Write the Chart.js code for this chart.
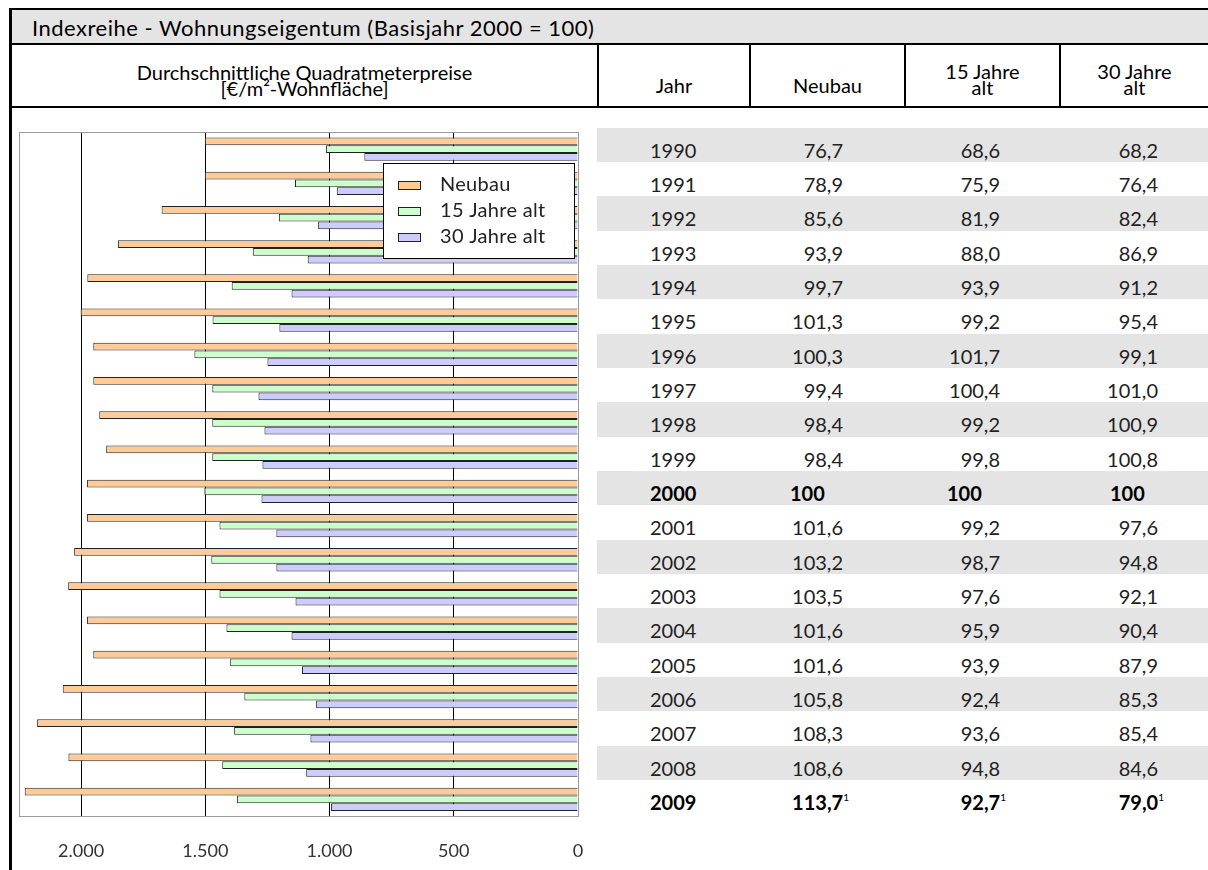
<!DOCTYPE html>
<html lang="de">
<head>
<meta charset="utf-8">
<title>Indexreihe - Wohnungseigentum</title>
<script src="https://cdn.jsdelivr.net/npm/chart.js@4.4.1/dist/chart.umd.min.js"></script>
<style>
  html, body { margin: 0; padding: 0; background: #fff; }
  #seite { position: relative; width: 1208px; height: 870px; overflow: hidden; font-family: Lato, "DejaVu Sans", sans-serif; color: #111; }
  .abs { position: absolute; }
  .linie { position: absolute; background: #000; }
  .kopf { position: absolute; text-align: center; font-size: 20px; line-height: 16px; color: #000; white-space: nowrap; }
  .zeile { position: absolute; left: 597px; width: 611px; height: 34.35px; }
  .zeile.grau { background: #e4e4e4; }
  .zelle { position: absolute; top: 5px; font-size: 20px; line-height: 34.35px; color: #222; white-space: nowrap; }
  .fett { font-weight: bold; color: #000; }
  sup { font-size: 10px; font-weight: normal; vertical-align: 9px; line-height: 0; }
  #diagramm { position: absolute; left: 12px; top: 112px; }
</style>
</head>
<body>
<div id="seite">
  <div class="abs" style="left:11px;top:10px;width:1197px;height:33px;background:#e4e4e4;"></div>
  <div class="abs" style="left:32px;top:17px;font-size:22px;line-height:22px;letter-spacing:0.5px;color:#000;white-space:nowrap;">Indexreihe - Wohnungseigentum (Basisjahr 2000 = 100)</div>

  <div class="linie" style="left:9px;top:8px;width:1199px;height:2px;"></div>
  <div class="linie" style="left:9px;top:8px;width:3px;height:862px;"></div>
  <div class="linie" style="left:9px;top:43px;width:1199px;height:2px;"></div>
  <div class="linie" style="left:9px;top:106px;width:1199px;height:2px;"></div>
  <div class="linie" style="left:597px;top:43px;width:2px;height:64px;"></div>
  <div class="linie" style="left:749px;top:43px;width:2px;height:64px;"></div>
  <div class="linie" style="left:904px;top:43px;width:2px;height:64px;"></div>
  <div class="linie" style="left:1059px;top:43px;width:2px;height:64px;"></div>

  <div class="kopf" style="left:12px;width:585px;top:63.5px;">Durchschnittliche Quadratmeterpreise<br>[€/m²-Wohnfläche]</div>
  <div class="kopf" style="left:599px;width:150px;top:76.5px;">Jahr</div>
  <div class="kopf" style="left:751px;width:153px;top:76.5px;">Neubau</div>
  <div class="kopf" style="left:906px;width:153px;top:62.5px;">15 Jahre<br>alt</div>
  <div class="kopf" style="left:1061px;width:147px;top:62.5px;">30 Jahre<br>alt</div>

  <div id="tabelle"></div>
  <canvas id="diagramm" width="586" height="782"></canvas>
</div>

<script>
// Jahre (Kategorien)
const jahre = [1990, 1991, 1992, 1993, 1994, 1995, 1996, 1997, 1998, 1999,
               2000, 2001, 2002, 2003, 2004, 2005, 2006, 2007, 2008, 2009];

// Durchschnittliche Quadratmeterpreise in €/m²
const neubauPreis = [1502, 1502, 1676, 1852, 1975, 2002, 1951, 1951, 1927, 1899,
                     1976, 1976, 2028, 2052, 1976, 1951, 2074, 2177, 2051, 2227];
const alt15Preis  = [1014, 1139, 1204, 1309, 1394, 1471, 1544, 1472, 1472, 1472,
                     1504, 1443, 1476, 1443, 1415, 1400, 1343, 1384, 1432, 1373];
const alt30Preis  = [860, 971, 1046, 1088, 1153, 1202, 1250, 1286, 1262, 1270,
                     1274, 1214, 1214, 1137, 1153, 1111, 1054, 1077, 1094, 994];

// Indexwerte (Basisjahr 2000 = 100)
const neubauIndex = [76.7, 78.9, 85.6, 93.9, 99.7, 101.3, 100.3, 99.4, 98.4, 98.4,
                     100, 101.6, 103.2, 103.5, 101.6, 101.6, 105.8, 108.3, 108.6, 113.7];
const alt15Index  = [68.6, 75.9, 81.9, 88.0, 93.9, 99.2, 101.7, 100.4, 99.2, 99.8,
                     100, 99.2, 98.7, 97.6, 95.9, 93.9, 92.4, 93.6, 94.8, 92.7];
const alt30Index  = [68.2, 76.4, 82.4, 86.9, 91.2, 95.4, 99.1, 101.0, 100.9, 100.8,
                     100, 97.6, 94.8, 92.1, 90.4, 87.9, 85.3, 85.4, 84.6, 79.0];

const serienNamen = ["Neubau", "15 Jahre alt", "30 Jahre alt"];
const tickWerte = [0, 500, 1000, 1500, 2000];
const basisJahr = 2000;
const fussnoteJahr = 2009;

// Zahl im deutschen Format
function formatIndex(wert, jahr) {
    if (jahr === basisJahr) return String(wert);
    return wert.toFixed(1).replace(".", ",");
}

function formatTausend(wert) {
    return String(wert).replace(/\B(?=(\d{3})+(?!\d))/g, ".");
}

// Tabelle rechts aufbauen
let tabelle = document.getElementById("tabelle");
let html = "";
jahre.forEach((jahr, i) => {
    let top = 127.5 + i * 34.35;
    let grau = i % 2 === 0 ? " grau" : "";
    let fett = (jahr === basisJahr || jahr === fussnoteJahr) ? " fett" : "";
    let fn = jahr === fussnoteJahr ? "<sup>1</sup>" : "";
    let werte = [neubauIndex[i], alt15Index[i], alt30Index[i]];
    let rechts = [843, 1000, 1158];
    let links = [790, 947, 1110];
    html += `<div class="zeile${grau}" style="top:${top}px;">`;
    html += `<div class="zelle${fett}" style="left:${650 - 597}px;">${jahr}</div>`;
    werte.forEach((w, k) => {
        if (jahr === basisJahr) {
            html += `<div class="zelle${fett}" style="left:${links[k] - 597}px;">${formatIndex(w, jahr)}</div>`;
        } else {
            let extra = fn ? 6 : 0;
            html += `<div class="zelle${fett}" style="right:${1208 - rechts[k] - extra}px;">${formatIndex(w, jahr)}${fn}</div>`;
        }
    });
    html += `</div>`;
});
tabelle.innerHTML = html;

// Rahmen um die Zeichenfläche
const rahmenPlugin = {
    id: "rahmen",
    beforeDatasetsDraw(chart) {
        let a = chart.chartArea;
        let ctx = chart.ctx;
        ctx.save();
        ctx.strokeStyle = "#9a9a9a";
        ctx.lineWidth = 1;
        ctx.strokeRect(Math.round(a.left) + 0.5, Math.round(a.top) + 0.5,
                       Math.round(a.right - a.left), Math.round(a.bottom - a.top));
        ctx.restore();
    }
};

// Legende innerhalb der Grafik
const legendePlugin = {
    id: "legende",
    afterDraw(chart) {
        let ctx = chart.ctx;
        let x = 371, y = 51, b = 191, h = 95;
        ctx.save();
        ctx.fillStyle = "#fff";
        ctx.fillRect(x, y, b, h);
        ctx.strokeStyle = "#000";
        ctx.lineWidth = 1;
        ctx.strokeRect(x + 0.5, y + 0.5, b, h);
        ctx.font = "20px Lato, 'DejaVu Sans', sans-serif";
        ctx.letterSpacing = "0.3px";
        ctx.textBaseline = "middle";
        chart.data.datasets.forEach((ds, i) => {
            let zy = y + 22 + i * 26;
            ctx.fillStyle = ds.backgroundColor;
            ctx.fillRect(x + 15, zy - 4, 22, 8);
            ctx.strokeStyle = "#222";
            ctx.strokeRect(x + 15.5, zy - 3.5, 22, 8);
            ctx.fillStyle = "#222";
            ctx.fillText(ds.label, x + 57, zy);
        });
        ctx.restore();
    }
};

let diagramm = document.getElementById("diagramm").getContext("2d");
new Chart(diagramm, {
    type: "bar",
    data: {
        labels: jahre,
        datasets: [
            {
                label: serienNamen[0],
                data: neubauPreis,
                backgroundColor: "#ffcc99",
                borderColor: "#222",
                borderWidth: 1
            },
            {
                label: serienNamen[1],
                data: alt15Preis,
                backgroundColor: "#ccffcc",
                borderColor: "#222",
                borderWidth: 1
            },
            {
                label: serienNamen[2],
                data: alt30Preis,
                backgroundColor: "#ccccff",
                borderColor: "#222",
                borderWidth: 1
            }
        ]
    },
    options: {
        indexAxis: "y",
        responsive: false,
        animation: false,
        devicePixelRatio: 1,
        layout: { padding: { left: 7, right: 20, top: 20, bottom: 8 } },
        datasets: { bar: { categoryPercentage: 0.68, barPercentage: 1.0 } },
        plugins: {
            legend: { display: false },
            tooltip: { enabled: false }
        },
        scales: {
            x: {
                type: "linear",
                reverse: true,
                min: 0,
                max: 2250,
                afterBuildTicks(scale) {
                    scale.ticks = tickWerte.map(v => ({ value: v }));
                },
                grid: {
                    color: (c) => (c.tick && c.tick.value === 0) ? "#9a9a9a" : "#000",
                    lineWidth: 1,
                    drawTicks: false
                },
                border: { display: true, color: "#9a9a9a" },
                ticks: {
                    padding: 24,
                    color: "#333",
                    font: { family: "Lato, 'DejaVu Sans', sans-serif", size: 18 },
                    callback: (v) => formatTausend(v)
                }
            },
            y: {
                display: false
            }
        }
    },
    plugins: [rahmenPlugin, legendePlugin]
});
</script>
</body>
</html>
